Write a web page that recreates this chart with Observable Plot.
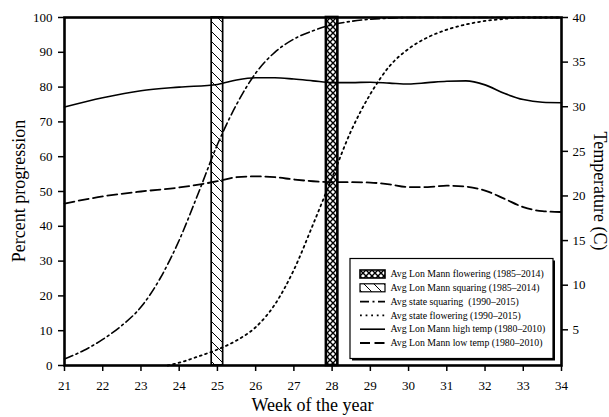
<!DOCTYPE html>
<html><head><meta charset="utf-8">
<script src="https://cdn.jsdelivr.net/npm/d3@7"></script>
<script src="https://cdn.jsdelivr.net/npm/@observablehq/plot@0.6"></script>
<style>
html,body{margin:0;padding:0;background:#fff;}
#chart svg text{font-family:'Liberation Serif','Times New Roman',serif !important;}
</style>
</head><body><div id="chart"></div>
<script>
// ---------------- data ----------------
const tempWeeks = [21,22,23,24,25,25.5,26,26.5,27,27.5,28,28.5,29,29.5,30,30.5,31,31.5,32,32.5,33,33.5,34];
const highTemp  = [29.96,31.0,31.8,32.2,32.5,33.0,33.25,33.25,33.1,32.9,32.7,32.7,32.75,32.65,32.55,32.7,32.85,32.9,32.45,31.5,30.8,30.5,30.45];
const lowTemp   = [19.15,19.95,20.5,20.95,21.65,22.1,22.2,22.1,21.85,21.65,21.55,21.55,21.5,21.3,21.0,21.0,21.15,21.05,20.6,19.7,18.75,18.3,18.2];

const squaringWeeks = [21,21.5,22,22.5,23,23.5,24,24.5,25,25.5,26,26.5,27,27.5,28,28.5,29,29.5,30,31,32,33,34];
const stateSquaring = [1.9,4.3,7.5,11.5,16.8,25,36,49.5,63.5,75,84,90,93.8,96.2,97.9,98.9,99.5,99.8,100,100,100,100,100];

const floweringWeeks = [23.7,24,24.5,25,25.5,26,26.5,27,27.5,28,28.5,29,29.5,30,30.5,31,31.5,32,32.5,33,34];
const stateFlowering = [0,0.8,2.6,4.6,7.2,11,17.5,27.5,40.5,54,67.5,78,86,91,94.3,96.5,98,99,99.6,100,100];

const barWeeks  = [28, 25];           // Lon Mann flowering, Lon Mann squaring
const barNames  = ["flowering", "squaring"];

const weekTicks = [21,22,23,24,25,26,27,28,29,30,31,32,33,34];
const pctTicks  = [0,10,20,30,40,50,60,70,80,90,100];
const tempTicks = [5,10,15,20,25,30,35,40];
const tempDomain = [1, 40];

const legendLabels = [
  "Avg Lon Mann flowering (1985–2014)",
  "Avg Lon Mann squaring (1985–2014)",
  "Avg state squaring  (1990–2015)",
  "Avg state flowering (1990–2015)",
  "Avg Lon Mann high temp (1980–2010)",
  "Avg Lon Mann low temp (1980–2010)"
];

// ---------------- helpers ----------------
const tempToY = t => (t - tempDomain[0]) / (tempDomain[1] - tempDomain[0]) * 100;
const yToTemp = y => Math.round(y / 100 * (tempDomain[1] - tempDomain[0]) + tempDomain[0]);

const highData = tempWeeks.map((w, i) => ({week: w, v: tempToY(highTemp[i])}));
const lowData  = tempWeeks.map((w, i) => ({week: w, v: tempToY(lowTemp[i])}));
const sqData   = squaringWeeks.map((w, i) => ({week: w, v: stateSquaring[i]}));
const flData   = floweringWeeks.map((w, i) => ({week: w, v: stateFlowering[i]}));
const bars     = barWeeks.map((w, i) => ({week: w, name: barNames[i]}));
const halfW = 0.15;

const styles = {
  high: {dash: null, width: 1.6},
  low: {dash: "10,4.5", width: 1.8},
  squaring: {dash: "9,3.5,2,3.5", width: 1.6},
  flowering: {dash: "1.8,3.8", width: 1.8}
};

const font = "'Liberation Serif', 'Times New Roman', serif";

const chart = Plot.plot({
  width: 609, height: 417,
  marginTop: 17, marginBottom: 52, marginLeft: 64, marginRight: 48,
  style: {fontFamily: font, fontSize: "13px", color: "black", background: "white"},
  x: {domain: [21, 34]},
  y: {domain: [0, 100]},
  marks: [
    Plot.rect(bars.filter(d => d.name === "squaring"), {x1: d => d.week - halfW, x2: d => d.week + halfW, fill: "url(#hatchDiag)", stroke: "black", strokeWidth: 1.7}),
    Plot.rect(bars.filter(d => d.name === "flowering"), {x1: d => d.week - halfW, x2: d => d.week + halfW, fill: "url(#crossHatch)", stroke: "black", strokeWidth: 2.6}),
    Plot.line(highData, {x: "week", y: "v", curve: "monotone-x", stroke: "black", strokeWidth: styles.high.width}),
    Plot.line(lowData, {x: "week", y: "v", curve: "monotone-x", stroke: "black", strokeWidth: styles.low.width, strokeDasharray: styles.low.dash}),
    Plot.line(sqData, {x: "week", y: "v", curve: "monotone-x", stroke: "black", strokeWidth: styles.squaring.width, strokeDasharray: styles.squaring.dash}),
    Plot.line(flData, {x: "week", y: "v", curve: "monotone-x", stroke: "black", strokeWidth: styles.flowering.width, strokeDasharray: styles.flowering.dash, strokeLinecap: "round"}),
    Plot.frame({stroke: "black", strokeWidth: 2.6}),
    Plot.axisX({ticks: weekTicks, tickSize: 6, tickPadding: 9, strokeWidth: 1.5, label: null}),
    Plot.axisY({ticks: pctTicks, tickSize: 6, tickPadding: 6, strokeWidth: 1.5, label: null}),
    Plot.axisY({anchor: "right", ticks: tempTicks.map(tempToY), tickFormat: yToTemp, tickSize: 6, tickPadding: 5, strokeWidth: 1.5, label: null})
  ]
});

document.getElementById("chart").appendChild(chart);

// ---------------- patterns ----------------
const svg = d3.select(chart);
svg.selectAll("text").attr("font-family", font);
const defs = svg.insert("defs", ":first-child");
const diag = defs.append("pattern").attr("id", "hatchDiag").attr("patternUnits", "userSpaceOnUse").attr("width", 10).attr("height", 10);
diag.append("rect").attr("width", 10).attr("height", 10).attr("fill", "white");
diag.append("path").attr("d", "M-2,-2L12,12M-2,8L2,12M8,-2L12,2").attr("stroke", "black").attr("stroke-width", 1);
const cross = defs.append("pattern").attr("id", "crossHatch").attr("patternUnits", "userSpaceOnUse").attr("width", 6).attr("height", 6);
cross.append("rect").attr("width", 6).attr("height", 6).attr("fill", "white");
cross.append("path").attr("d", "M0,0L6,6M6,0L0,6").attr("stroke", "black").attr("stroke-width", 1.4);

// ---------------- axis titles ----------------
svg.append("text").attr("x", 312.5).attr("y", 411).attr("text-anchor", "middle")
  .attr("font-family", font).attr("font-size", 18).text("Week of the year");
svg.append("text").attr("transform", "translate(25,191) rotate(-90)").attr("text-anchor", "middle")
  .attr("font-family", font).attr("font-size", 18).text("Percent progression");
svg.append("text").attr("transform", "translate(594,191) rotate(90)").attr("text-anchor", "middle")
  .attr("font-family", font).attr("font-size", 18).text("Temperature (C)");

// ---------------- legend ----------------
const lg = svg.append("g");
const box = {x: 350, y: 258.5, w: 203, h: 100};
lg.append("rect").attr("x", box.x + 2).attr("y", box.y + 2).attr("width", box.w).attr("height", box.h).attr("fill", "black");
lg.append("rect").attr("x", box.x).attr("y", box.y).attr("width", box.w).attr("height", box.h).attr("fill", "white").attr("stroke", "black").attr("stroke-width", 1.2);
const legendKinds = [
  {type: "swatch", fill: "url(#crossHatch)", sw: 1.6},
  {type: "swatch", fill: "url(#hatchDiag)", sw: 1.2},
  {type: "line", st: styles.squaring},
  {type: "line", st: styles.flowering},
  {type: "line", st: styles.high},
  {type: "line", st: styles.low}
];
legendLabels.forEach((label, i) => {
  const cy = 274 + i * 13.8;
  const k = legendKinds[i];
  if (k.type === "swatch") {
    lg.append("rect").attr("x", 360).attr("y", cy - 4).attr("width", 25).attr("height", 8)
      .attr("fill", k.fill).attr("stroke", "black").attr("stroke-width", k.sw);
  } else {
    const l = lg.append("line").attr("x1", 360).attr("x2", 385).attr("y1", cy).attr("y2", cy)
      .attr("stroke", "black").attr("stroke-width", k.st.width);
    if (k.st.dash) l.attr("stroke-dasharray", k.st.dash);
  }
  lg.append("text").attr("x", 390.5).attr("y", cy).attr("dy", "0.33em").attr("text-anchor", "start")
    .attr("font-family", font).attr("font-size", 9.8).style("white-space", "pre").text(label);
});
</script>
</body></html>
